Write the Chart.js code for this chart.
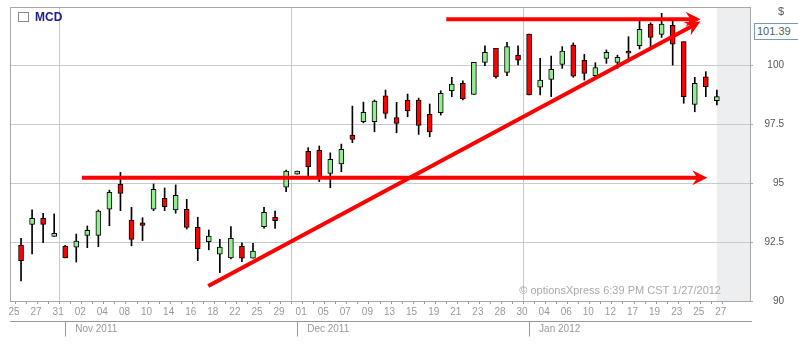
<!DOCTYPE html>
<html lang="en">
<head>
    <meta charset="UTF-8">
    <title>MCD</title>
    <script src="https://cdn.jsdelivr.net/npm/chart.js"></script>
    <style>
        * {
            margin: 0;
            padding: 0;
            box-sizing: border-box;
        }
        body {
            background: #fff;
            width: 798px;
            height: 348px;
            overflow: hidden;
            font-family: 'Liberation Sans', Arial, sans-serif;
        }
        .wrap {
            position: relative;
            width: 798px;
            height: 348px;
        }
        .legend {
            position: absolute;
            left: 18px;
            top: 10px;
            height: 13px;
            display: flex;
            align-items: center;
        }
        .legend .box {
            width: 11px;
            height: 10px;
            border: 1px solid #8a8a8a;
            background: #fff;
            margin-right: 6px;
        }
        .legend span {
            font-size: 12px;
            font-weight: bold;
            color: #1c1c8e;
        }
        .dollar {
            position: absolute;
            left: 778px;
            top: 5px;
            font-size: 11px;
            color: #555;
        }
        .price {
            position: absolute;
            left: 754px;
            top: 23px;
            width: 48px;
            height: 17px;
            border: 1px solid #7a9cb8;
            background: #fff;
            font-size: 11px;
            line-height: 15px;
            color: #4f5b66;
            padding-left: 2px;
        }
        .stamp {
            position: absolute;
            left: 0;
            width: 721px;
            top: 284px;
            text-align: right;
            font-size: 11px;
            color: #aaa;
        }
    </style>
</head>
<body>
<div class="wrap">
    <canvas id="mcdChart" width="798" height="348"></canvas>
    <div class="legend"><div class="box"></div><span>MCD</span></div>
    <div class="dollar">$</div>
    <div class="price">101.39</div>
    <div class="stamp">© optionsXpress 6:39 PM CST 1/27/2012</div>
</div>

<script>
    // trading days, Oct 25 2011 - Jan 27 2012
    const days = ['25','26','27','28','31',
        '01','02','03','04','07','08','09','10','11','14','15','16','17','18','21','22','23','25','28','29','30',
        '01','02','05','06','07','08','09','12','13','14','15','16','19','20','21','22','23','27','28','29','30',
        '03','04','05','06','09','10','11','12','13','17','18','19','20','23','24','25','26','27'];
    const monthLabels = ['Nov 2011', 'Dec 2011', 'Jan 2012'];

    const opens  = [null, 92.37, 93.25, 93.50, 92.74,
        92.33, 92.28, 92.78, 92.78, 93.89, 94.94, 93.43, 93.31, 93.89, 94.35, 93.86, 93.89, 93.12, 92.51, 91.98, 91.83, 92.32, 91.81, 93.15, 93.56, 94.82,
        95.37, 96.34, 96.39, 95.41, 95.81, 97.03, 97.60, 97.60, 98.70, 97.77, 98.52, 98.52, 97.91, 97.98, 98.91, 99.22, 98.76, 100.11, 100.71, 99.69, 100.42,
        101.31, 99.06, 99.39, 100.03, 100.85, 100.20, 99.55, 100.28, 100.11, 100.59, 100.82, 101.74, 101.30, 101.68, 100.99, 98.33, 99.50, 98.49];
    const highs  = [null, 92.66, 93.86, 93.72, 93.69,
        92.36, 92.84, 93.18, 93.86, 94.70, 95.45, 93.97, 93.53, 94.96, 94.79, 94.92, 94.31, 93.55, 93.01, 92.61, 93.15, 92.47, 92.44, 93.97, 93.81, 95.55,
        95.51, 96.50, 96.57, 96.28, 96.65, 98.26, 98.43, 98.52, 98.94, 98.42, 98.77, 98.60, 98.35, 98.91, 99.48, 99.33, 100.11, 100.81, 100.71, 100.96, 100.81,
        101.31, 100.28, 100.38, 100.78, 100.94, 100.45, 100.10, 100.64, 100.42, 101.20, 101.86, 101.79, 102.19, 101.91, 100.99, 99.48, 99.72, 98.94];
    const lows   = [null, 90.85, 92.00, 92.47, 92.74,
        91.83, 91.65, 92.26, 92.30, 93.19, 93.83, 92.34, 92.56, 93.83, 93.83, 93.72, 93.05, 91.71, 92.17, 91.20, 91.78, 91.67, 91.81, 93.09, 93.08, 94.63,
        95.37, 95.31, 95.06, 94.80, 95.48, 96.71, 97.55, 97.17, 97.74, 97.13, 97.81, 97.06, 96.96, 97.88, 98.66, 98.52, 98.76, 99.97, 99.44, 99.55, 100.00,
        98.73, 98.73, 98.66, 99.86, 99.48, 99.36, 99.41, 100.07, 99.86, 100.14, 100.68, 100.66, 101.17, 100.00, 98.38, 98.02, 98.66, 98.31];
    const closes = [null, 91.71, 93.50, 93.25, 92.87,
        91.83, 92.54, 93.00, 93.81, 94.61, 94.56, 92.61, 93.20, 94.73, 94.00, 94.48, 93.12, 92.22, 92.75, 92.28, 92.66, 91.81, 92.12, 93.76, 93.40, 95.51,
        95.51, 95.69, 95.27, 96.00, 96.43, 96.85, 98.00, 98.47, 97.95, 97.53, 98.06, 97.44, 97.17, 98.80, 99.19, 98.56, 100.11, 100.54, 99.50, 100.78, 100.21,
        98.73, 99.36, 99.82, 100.59, 99.53, 99.65, 99.89, 100.54, 100.33, 100.50, 101.51, 101.17, 101.74, 100.88, 98.66, 99.22, 99.08, 98.66];

    const yTicks = [90, 92.5, 95, 97.5, 100];

    // hand drawn arrows (day index, price)
    const resistanceArrow = [{x: 39.5, y: 101.94}, {x: 62.07, y: 101.94}];
    const trendArrow = [{x: 17.95, y: 90.64}, {x: 62.11, y: 101.74}];
    const supportArrow = [{x: 6.51, y: 95.22}, {x: 62.68, y: 95.22}];

    const monthStarts = days.map((d, i) => i).filter(i => i > 0 && +days[i] < +days[i - 1]);
    const candleIdx = days.map((d, i) => i).filter(i => opens[i] !== null);

    const wickData = candleIdx.map(i => ({x: i, y: [lows[i], highs[i]]}));
    const bodyData = candleIdx.map(i => ({x: i, y: [Math.min(opens[i], closes[i]), Math.max(opens[i], closes[i])]}));
    const bodyColors = candleIdx.map(i => closes[i] >= opens[i] ? '#90EE90' : '#FF0000');

    Chart.defaults.font.family = "'Liberation Sans', Arial, sans-serif";

    const shadePlugin = {
        id: 'shade',
        beforeDraw(chart) {
            const {ctx, chartArea, scales} = chart;
            const x0 = scales.x.getPixelForValue(days.length - 1);
            ctx.save();
            ctx.fillStyle = '#ECEEF0';
            ctx.fillRect(x0, chartArea.top, chartArea.right - x0, chartArea.bottom - chartArea.top);
            ctx.restore();
        }
    };

    const arrowPlugin = {
        id: 'arrows',
        afterDatasetsDraw(chart) {
            const ctx = chart.ctx;
            chart.data.datasets.forEach((ds, di) => {
                if (!ds.arrow) return;
                const pts = chart.getDatasetMeta(di).data;
                const a = pts[pts.length - 2], b = pts[pts.length - 1];
                const ang = Math.atan2(b.y - a.y, b.x - a.x);
                ctx.save();
                ctx.translate(b.x, b.y);
                ctx.rotate(ang);
                ctx.fillStyle = '#FF0000';
                ctx.beginPath();
                ctx.moveTo(5, 0);
                ctx.lineTo(-10, -7.5);
                ctx.lineTo(-5, 0);
                ctx.lineTo(-10, 7.5);
                ctx.closePath();
                ctx.fill();
                ctx.restore();
            });
        },
        afterDraw(chart) {
            const {ctx, chartArea, scales} = chart;
            ctx.save();
            // frame
            ctx.strokeStyle = '#A8A8A8';
            ctx.lineWidth = 1;
            ctx.strokeRect(Math.round(chartArea.left) + 0.5, Math.round(chartArea.top) + 0.5,
                Math.round(chartArea.right - chartArea.left), Math.round(chartArea.bottom - chartArea.top));
            // month row
            const yLine = Math.round(chartArea.bottom) + 20.5;
            ctx.strokeStyle = '#999';
            ctx.beginPath();
            ctx.moveTo(chartArea.left, yLine);
            ctx.lineTo(chartArea.right + 2, yLine);
            monthStarts.forEach(i => {
                const px = Math.round(scales.x.getPixelForValue(i)) + 0.5;
                ctx.moveTo(px, yLine);
                ctx.lineTo(px, yLine + 15);
            });
            ctx.stroke();
            ctx.fillStyle = '#999';
            ctx.font = "10px 'Liberation Sans', Arial, sans-serif";
            ctx.textBaseline = 'middle';
            monthStarts.forEach((i, k) => {
                ctx.fillText(monthLabels[k], scales.x.getPixelForValue(i) + 10, yLine + 8);
            });
            ctx.restore();
        }
    };

    const arrowStyle = {
        type: 'line',
        borderColor: '#FF0000',
        borderWidth: 4,
        pointRadius: 0,
        fill: false,
        tension: 0,
        order: 0,
        arrow: true
    };

    new Chart(document.getElementById('mcdChart'), {
        type: 'bar',
        data: {
            datasets: [
                Object.assign({data: resistanceArrow}, arrowStyle),
                Object.assign({data: trendArrow}, arrowStyle),
                Object.assign({data: supportArrow}, arrowStyle),
                {
                    label: 'MCD',
                    data: bodyData,
                    backgroundColor: bodyColors,
                    borderColor: '#000',
                    borderWidth: 1,
                    borderSkipped: false,
                    barThickness: 5,
                    minBarLength: 2,
                    grouped: false,
                    order: 1
                },
                {
                    data: wickData,
                    backgroundColor: '#000',
                    borderWidth: 0,
                    barThickness: 1,
                    grouped: false,
                    order: 2
                }
            ]
        },
        options: {
            responsive: false,
            animation: false,
            layout: {padding: {left: 10, top: 7, right: 14, bottom: 0}},
            plugins: {legend: {display: false}, tooltip: {enabled: false}},
            scales: {
                x: {
                    type: 'linear',
                    min: 0,
                    max: 67,
                    offset: false,
                    afterBuildTicks: s => { s.ticks = days.map((d, i) => ({value: i})); },
                    afterFit: s => {
                        s.height = 47;
                        s.paddingLeft = 0;
                        s.paddingRight = 0;
                    },
                    ticks: {
                        autoSkip: false,
                        maxRotation: 0,
                        color: '#999',
                        font: {size: 10},
                        labelOffset: 4,
                        padding: 2,
                        callback: (v, i) => i % 2 === 0 ? days[i] : ''
                    },
                    grid: {
                        color: c => c.tick && monthStarts.includes(c.tick.value) ? '#C3CBD0' : 'rgba(0,0,0,0)',
                        tickColor: '#999',
                        tickLength: 3
                    },
                    border: {display: false}
                },
                y: {
                    position: 'right',
                    min: 90,
                    max: 102.46,
                    afterBuildTicks: s => { s.ticks = yTicks.map(v => ({value: v})); },
                    afterFit: s => {
                        s.width = 34;
                        s.paddingTop = 0;
                        s.paddingBottom = 0;
                    },
                    ticks: {
                        color: '#555',
                        font: {size: 10},
                        crossAlign: 'far',
                        padding: 12,
                        callback: v => String(v)
                    },
                    grid: {color: '#C3CBD0', tickColor: '#A8A8A8', tickLength: 3},
                    border: {display: false}
                }
            }
        },
        plugins: [shadePlugin, arrowPlugin]
    });
</script>
</body>
</html>
